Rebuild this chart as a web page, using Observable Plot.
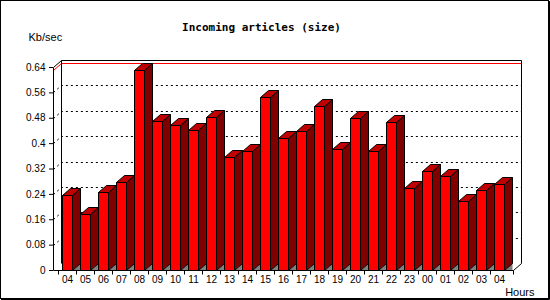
<!DOCTYPE html>
<html><head><meta charset="utf-8">
<script src="https://cdn.jsdelivr.net/npm/d3@7"></script>
<script src="https://cdn.jsdelivr.net/npm/@observablehq/plot@0.6"></script>
<style>html,body{margin:0;padding:0;background:#fff} svg{display:block}</style>
</head><body><div id="chart"></div>
<script>
const hours = ["04","05","06","07","08","09","10","11","12","13","14","15","16","17","18","19","20","21","22","23","00","01","02","03","04"];
const sizes = [0.237,0.177,0.246,0.277,0.629,0.471,0.457,0.442,0.483,0.356,0.375,0.546,0.416,0.438,0.517,0.381,0.479,0.376,0.468,0.258,0.313,0.297,0.218,0.253,0.272];
const yTicks = [0,0.08,0.16,0.24,0.32,0.4,0.48,0.56,0.64];
const yTickLabels = ["0","0.08","0.16","0.24","0.32","0.4","0.48","0.56","0.64"];
const titleText = "Incoming articles (size)";
const yUnit = "Kb/sec";
const xUnit = "Hours";

const keys = hours.map((h, i) => String(i));
const data = hours.map((h, i) => ({key: keys[i], hour: h, size: sizes[i]}));
const maxSize = d3.max(sizes);

const DX = 8, DY = 7;           // 3D depth in pixels
const R = v => Math.round(v) + 0.5;

// back wall, grid lines, max line, box edges
function backWall(index, scales, values, dims) {
  const {x, y} = scales;
  const [xl, xr] = x.range().map(R);
  const y0 = R(y(0)), yt = R(y(yTicks[yTicks.length - 1]));
  const g = d3.create("svg:g").attr("fill", "none");
  for (const t of yTicks.slice(1, -1)) {
    const yy = R(y(t));
    g.append("path").attr("d", `M${xl},${yy}L${xl + DX},${yy - DY}H${xr + DX}`)
      .attr("stroke", "#000").attr("stroke-dasharray", "2,3");
  }
  const ym = R(y(maxSize));
  g.append("path").attr("d", `M${xl},${ym}L${xl + DX},${ym - DY}H${xr + DX}`).attr("stroke", "#ff0000");
  g.append("path").attr("d", `M${xl + DX},${y0 - DY}V${yt - DY}H${xr + DX}V${y0 - DY}L${xr},${y0}`).attr("stroke", "#000");
  g.append("path").attr("d", `M${xl},${yt}L${xl + DX},${yt - DY}`).attr("stroke", "#000");
  return g.node();
}

// front axis lines and boundary ticks
function frontAxes(index, scales) {
  const {x, y} = scales;
  const [xl, xr] = x.range().map(R);
  const y0 = R(y(0)), yt = R(y(yTicks[yTicks.length - 1]));
  const g = d3.create("svg:g").attr("fill", "none").attr("stroke", "#000");
  g.append("path").attr("d", `M${xl},${yt}V${y0}H${xr}`);
  const bounds = keys.map(k => x(k)).concat([x.range()[1]]);
  for (const b of bounds) g.append("path").attr("d", `M${R(b)},${y0}V${y0 + 4}`);
  return g.node();
}

function outerBorder(index, scales, values, dims) {
  const {width, height} = dims;
  const g = d3.create("svg:g").attr("fill", "none").attr("stroke", "#000");
  g.append("rect").attr("x", 0.5).attr("y", 0.5).attr("width", width - 2).attr("height", height - 2);
  g.append("path").attr("d", `M${width - 0.5},1V${height - 0.5}H1`);
  return g.node();
}

function render3d(index, scales, values) {
  const bw = scales.x.bandwidth();
  const g = d3.create("svg:g").attr("stroke", "#000").attr("stroke-width", 1);
  for (const i of index) {
    const xa = R(values.x[i] + 0.2 * bw), xb = R(values.x[i] + 0.78 * bw);
    const yt = R(values.y2[i]), yb = R(values.y1[i]);
    g.append("path").attr("d", `M${xb},${yb}L${xb + DX},${yb - DY}V${yb}Z`).attr("fill", "#808080").attr("stroke", "none");
    g.append("path").attr("d", `M${xb},${yb}V${yt}L${xb + DX},${yt - DY}V${yb - DY}Z`).attr("fill", "#800000");
    g.append("path").attr("d", `M${xa},${yt}L${xa + DX},${yt - DY}H${xb + DX}L${xb},${yt}Z`).attr("fill", "#c00000");
    g.append("path").attr("d", `M${xa},${yb}V${yt}H${xb}V${yb}Z`).attr("fill", "#ff0000");
  }
  return g.node();
}

const chart = Plot.plot({
  width: 550,
  height: 300,
  marginLeft: 53,
  marginRight: 37,
  marginTop: 67,
  marginBottom: 30,
  style: {fontFamily: "'Liberation Sans', Arial, sans-serif", fontSize: "10px", color: "#000", background: "#fff"},
  x: {type: "band", domain: keys, padding: 0},
  y: {domain: [0, 0.64], range: [270, 67]},
  marks: [
    backWall,
    Plot.barY(data, {x: "key", y: "size", render: render3d}),
    frontAxes,
    Plot.axisY({ticks: yTicks, tickFormat: d => yTickLabels[yTicks.indexOf(d)], tickSize: 4, tickPadding: 4, label: null}),
    Plot.axisX({tickSize: 0, tickPadding: 5, tickFormat: k => hours[+k], label: null}),
    Plot.text([titleText], {frameAnchor: "top-left", textAnchor: "middle", lineAnchor: "middle", dx: 208, dy: -40, fontFamily: "'DejaVu Sans Mono', monospace", fontWeight: "bold", fontSize: 11}),
    Plot.text([yUnit], {frameAnchor: "top-left", textAnchor: "start", lineAnchor: "middle", dx: -25, dy: -30, fontSize: 11}),
    Plot.text([xUnit], {frameAnchor: "bottom-right", textAnchor: "end", lineAnchor: "middle", dx: 21, dy: 22, fontSize: 11}),
    outerBorder
  ]
});
document.getElementById("chart").append(chart);
</script>
</body></html>
